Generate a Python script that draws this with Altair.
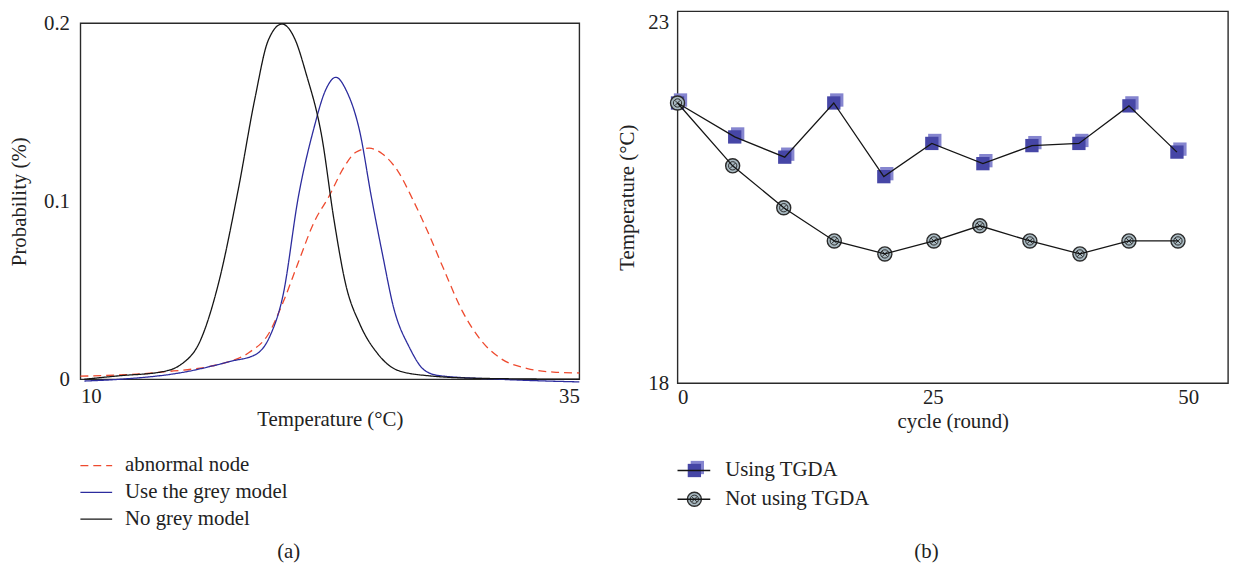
import altair as alt
import pandas as pd

# ---------------- Panel (a) data ----------------
series_a = ["abnormal node", "Use the grey model", "No grey model"]
colors_a = ["#ee4a2e", "#2c2c9e", "#151515"]

red_x = [10.0, 14.05, 17.1, 18.45, 19.4, 20.17, 20.93, 21.7, 22.47, 23.2, 23.8, 24.47,
         25.14, 25.9, 26.67, 27.44, 28.2, 29.15, 30.1, 31.07, 32.4, 33.7, 35.0]
red_y = [0.0017, 0.004, 0.0088, 0.015, 0.025, 0.0436, 0.066, 0.088, 0.103, 0.119, 0.1275, 0.1298,
         0.1265, 0.117, 0.1006, 0.082, 0.062, 0.038, 0.0215, 0.0116, 0.006, 0.004, 0.0035]

blue_x = [10.2, 12.0, 15.2, 17.5, 18.8, 19.5, 20.15, 20.93, 21.7, 22.27, 22.8, 23.33, 24.0,
          24.57, 25.14, 25.7, 26.48, 27.25, 28.0, 31.0, 35.0]
blue_y = [-0.001, 0.0, 0.004, 0.010, 0.014, 0.0243, 0.047, 0.103, 0.141, 0.162, 0.1696, 0.162, 0.139,
          0.103, 0.070, 0.040, 0.018, 0.005, 0.002, 0.0, -0.0015]

black_x = [10.2, 12.0, 14.0, 15.0, 16.0, 16.9, 17.9, 18.75, 19.4, 20.1, 20.75, 21.3, 22.1,
           22.7, 23.3, 24.0, 24.9, 25.9, 27.4, 30.0, 35.0]
black_y = [0.0, 0.002, 0.004, 0.008, 0.0215, 0.053, 0.106, 0.158, 0.19, 0.1995, 0.191, 0.172, 0.136,
           0.09, 0.053, 0.031, 0.0143, 0.005, 0.002, 0.0005, 0.0]

xa_ticks = [10, 35]
ya_ticks = [0, 0.1, 0.2]

# ---------------- Panel (b) data ----------------
series_b = ["Using TGDA", "Not using TGDA"]
using_x = [0, 5.6, 10.5, 15.3, 20.2, 24.9, 29.9, 34.7, 39.3, 44.2, 48.9]
using_y = [21.88, 21.41, 21.13, 21.88, 20.86, 21.32, 21.04, 21.29, 21.32, 21.84, 21.20]
not_x = [0, 5.4, 10.4, 15.35, 20.3, 25.1, 29.6, 34.5, 39.4, 44.2, 49.0]
not_y = [21.88, 21.01, 20.43, 19.97, 19.79, 19.97, 20.18, 19.97, 19.79, 19.97, 19.97]
xb_ticks = [0, 25, 50]
yb_ticks = [18, 23]

FONT = "Liberation Serif"
FS = 21
TXT = "#222222"

# ---------------- build panel (a) ----------------
df_a = pd.concat([
    pd.DataFrame({"t": red_x, "p": red_y, "s": series_a[0]}),
    pd.DataFrame({"t": blue_x, "p": blue_y, "s": series_a[1]}),
    pd.DataFrame({"t": black_x, "p": black_y, "s": series_a[2]}),
])
color_a = alt.Scale(domain=series_a, range=colors_a)
dash_a = alt.Scale(domain=series_a, range=[[8, 5], [1, 0], [1, 0]])

plot_a = alt.Chart(df_a).mark_line(interpolate="monotone", strokeWidth=1.3).encode(
    x=alt.X("t:Q", scale=alt.Scale(domain=[10, 35], nice=False),
            axis=alt.Axis(values=xa_ticks, title="Temperature (°C)", labelPadding=6, titlePadding=3)),
    y=alt.Y("p:Q", scale=alt.Scale(domain=[0, 0.2], nice=False),
            axis=alt.Axis(values=ya_ticks, format="~g", title="Probability (%)",
                          labelPadding=11, titlePadding=14)),
    color=alt.Color("s:N", scale=color_a, legend=None),
    strokeDash=alt.StrokeDash("s:N", scale=dash_a, legend=None),
    detail="s:N",
).properties(width=503, height=359,
             view=alt.ViewBackground(stroke="#2a2a2a", strokeWidth=1.4))

leg_a_df = pd.DataFrame({"s": series_a, "row": list(range(len(series_a)))})
leg_a_y = alt.Y("row:Q", scale=alt.Scale(domain=[0, 2], range=[87, 141]), axis=None)
leg_a_rule = alt.Chart(leg_a_df).mark_rule(strokeWidth=1.3).encode(
    x=alt.value(0), x2=alt.value(32), y=leg_a_y,
    color=alt.Color("s:N", scale=color_a, legend=None),
    strokeDash=alt.StrokeDash("s:N", scale=dash_a, legend=None),
)
leg_a_text = alt.Chart(leg_a_df).mark_text(align="left", baseline="middle", font=FONT,
                                           fontSize=FS, color=TXT).encode(
    x=alt.value(45), y=leg_a_y, text="s:N")
cap_a = alt.Chart(pd.DataFrame({"c": ["(a)"]})).mark_text(
    align="center", baseline="middle", font=FONT, fontSize=FS, color=TXT).encode(
    x=alt.value(210), y=alt.value(174), text="c:N")
legend_a = alt.layer(leg_a_rule, leg_a_text, cap_a).properties(
    width=503, height=185, view=alt.ViewBackground(stroke="transparent"))

spacer_a = alt.Chart(pd.DataFrame({"z": [0]})).mark_point(opacity=0, size=1).encode(
    x=alt.value(250), y=alt.value(6)).properties(
    width=503, height=12, view=alt.ViewBackground(stroke="transparent"))

left_col = alt.vconcat(spacer_a, plot_a, legend_a, spacing=0, bounds="flush")

# ---------------- build panel (b) ----------------
df_b = pd.concat([
    pd.DataFrame({"c": using_x, "v": using_y, "s": series_b[0]}),
    pd.DataFrame({"c": not_x, "v": not_y, "s": series_b[1]}),
])
xb = alt.X("c:Q", scale=alt.Scale(domain=[0, 53.9], nice=False),
           axis=alt.Axis(values=xb_ticks, title="cycle (round)", labelPadding=3, titlePadding=4))
yb = alt.Y("v:Q", scale=alt.Scale(domain=[18, 23.15], nice=False),
           axis=alt.Axis(values=yb_ticks, title="Temperature (°C)", labelPadding=9, titlePadding=10))

base_b = alt.Chart(df_b).encode(x=xb, y=yb)
sq_back = base_b.transform_filter(alt.datum.s == series_b[0]).mark_square(
    size=180, color="#8585cf", opacity=1, xOffset=3, yOffset=-3)
sq_front = base_b.transform_filter(alt.datum.s == series_b[0]).mark_square(
    size=180, color="#4646a6", opacity=1)
circ_out = base_b.transform_filter(alt.datum.s == series_b[1]).mark_point(
    shape="circle", filled=True, fill="#a8b9c1", stroke="#2b2b2b", strokeWidth=1.4,
    size=200, opacity=1)
circ_in = base_b.transform_filter(alt.datum.s == series_b[1]).mark_point(
    shape="circle", filled=False, stroke="#2b2b2b", strokeWidth=1, size=70, opacity=1)
circ_x = base_b.transform_filter(alt.datum.s == series_b[1]).mark_point(
    shape="M-1,-1L1,1M1,-1L-1,1", filled=False, stroke="#2b2b2b", strokeWidth=1,
    size=30, opacity=1)
line_b = base_b.mark_line(color="#151515", strokeWidth=1.3).encode(detail="s:N")

plot_b = alt.layer(sq_back, sq_front, circ_out, circ_in, circ_x, line_b).properties(
    width=555, height=375, view=alt.ViewBackground(stroke="#2a2a2a", strokeWidth=1.4))

leg_b_df = pd.DataFrame({"s": series_b, "row": list(range(len(series_b)))})
leg_b_y = alt.Y("row:Q", scale=alt.Scale(domain=[0, 1], range=[88, 117]), axis=None)
lb = alt.Chart(leg_b_df).encode(y=leg_b_y)
lb_sq_back = lb.transform_filter(alt.datum.s == series_b[0]).mark_square(
    size=180, color="#8585cf", opacity=1, xOffset=3, yOffset=-3).encode(x=alt.value(17))
lb_sq = lb.transform_filter(alt.datum.s == series_b[0]).mark_square(
    size=180, color="#4646a6", opacity=1).encode(x=alt.value(17))
lb_c1 = lb.transform_filter(alt.datum.s == series_b[1]).mark_point(
    shape="circle", filled=True, fill="#a8b9c1", stroke="#2b2b2b", strokeWidth=1.4,
    size=200, opacity=1).encode(x=alt.value(17))
lb_c2 = lb.transform_filter(alt.datum.s == series_b[1]).mark_point(
    shape="circle", filled=False, stroke="#2b2b2b", strokeWidth=1, size=70,
    opacity=1).encode(x=alt.value(17))
lb_c3 = lb.transform_filter(alt.datum.s == series_b[1]).mark_point(
    shape="M-1,-1L1,1M1,-1L-1,1", filled=False, stroke="#2b2b2b", strokeWidth=1,
    size=30, opacity=1).encode(x=alt.value(17))
lb_rule = lb.mark_rule(color="#151515", strokeWidth=1.3).encode(x=alt.value(0), x2=alt.value(33))
lb_text = lb.mark_text(align="left", baseline="middle", font=FONT, fontSize=FS,
                       color=TXT).encode(x=alt.value(48), text="s:N")
cap_b = alt.Chart(pd.DataFrame({"c": ["(b)"]})).mark_text(
    align="center", baseline="middle", font=FONT, fontSize=FS, color=TXT).encode(
    x=alt.value(251), y=alt.value(170), text="c:N")
legend_b = alt.layer(lb_sq_back, lb_sq, lb_c1, lb_c2, lb_c3, lb_rule, lb_text, cap_b).properties(
    width=555, height=181, view=alt.ViewBackground(stroke="transparent"))

right_col = alt.vconcat(plot_b, legend_b, spacing=0, bounds="flush")

chart = alt.hconcat(left_col, right_col, spacing=33).properties(
    padding=0, background="white"
).configure_axis(
    labelFont=FONT, titleFont=FONT, labelFontSize=FS, titleFontSize=FS,
    titleFontWeight="normal", labelColor=TXT, titleColor=TXT,
    ticks=False, domain=False, grid=False,
).configure_view(stroke="transparent")

chart.save("out.html", embed_options={"renderer": "svg", "actions": False})
